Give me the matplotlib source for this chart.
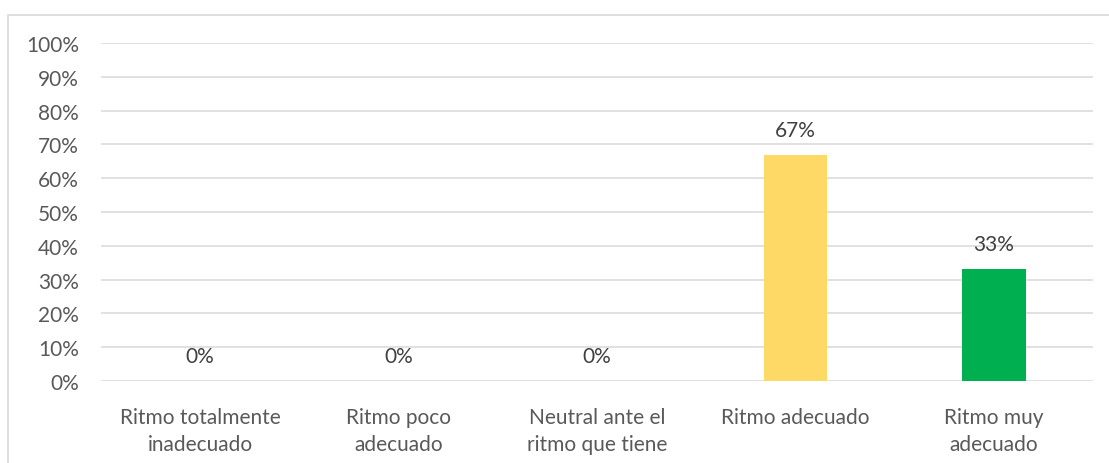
import matplotlib.pyplot as plt
from matplotlib.patches import Rectangle
from matplotlib.ticker import PercentFormatter

# Datos
categorias = ["Ritmo totalmente\ninadecuado", "Ritmo poco\nadecuado",
              "Neutral ante el\nritmo que tiene", "Ritmo adecuado",
              "Ritmo muy\nadecuado"]
porcentajes = [0.0, 0.0, 0.0, 0.67, 0.33]
colores = ["#FFD966", "#FFD966", "#FFD966", "#FFD966", "#00B050"]
ticks_y = [i / 10 for i in range(11)]

plt.rcParams['font.family'] = ['Lato', 'DejaVu Sans']

fig = plt.figure(figsize=(11.09, 4.64), dpi=100)
ax = fig.add_axes([0.0911, 0.1767, 0.8945, 0.7284])

x = range(len(categorias))
barras = ax.bar(x, porcentajes, width=0.32, color=colores, zorder=3)

# Etiquetas de datos sobre cada barra
for xi, v in zip(x, porcentajes):
    ax.annotate(f"{v:.0%}", (xi, v), xytext=(0, 18), textcoords="offset points",
                ha="center", va="center", fontsize=15, color="#404040")

ax.set_xlim(-0.5, len(categorias) - 0.5)
ax.set_ylim(0, 1)
ax.set_yticks(ticks_y)
ax.yaxis.set_major_formatter(PercentFormatter(1.0, decimals=0))
ax.set_xticks(list(x))
ax.set_xticklabels(categorias, fontsize=15, color="#595959", linespacing=1.4)
ax.tick_params(axis="y", labelsize=15, labelcolor="#595959", length=0, pad=16)
ax.tick_params(axis="x", length=0, pad=19)
ax.grid(axis="y", color="#D9D9D9", linewidth=1.1, zorder=0)
for s in ax.spines.values():
    s.set_visible(False)

# Marco del gráfico
fig.patches.append(Rectangle((8 / 1109, -0.1), 1.2, 0.1 + (464 - 16) / 464,
                             transform=fig.transFigure, fill=False,
                             edgecolor="#D9D9D9", linewidth=1.2))

fig.savefig("out.png", dpi=100)
